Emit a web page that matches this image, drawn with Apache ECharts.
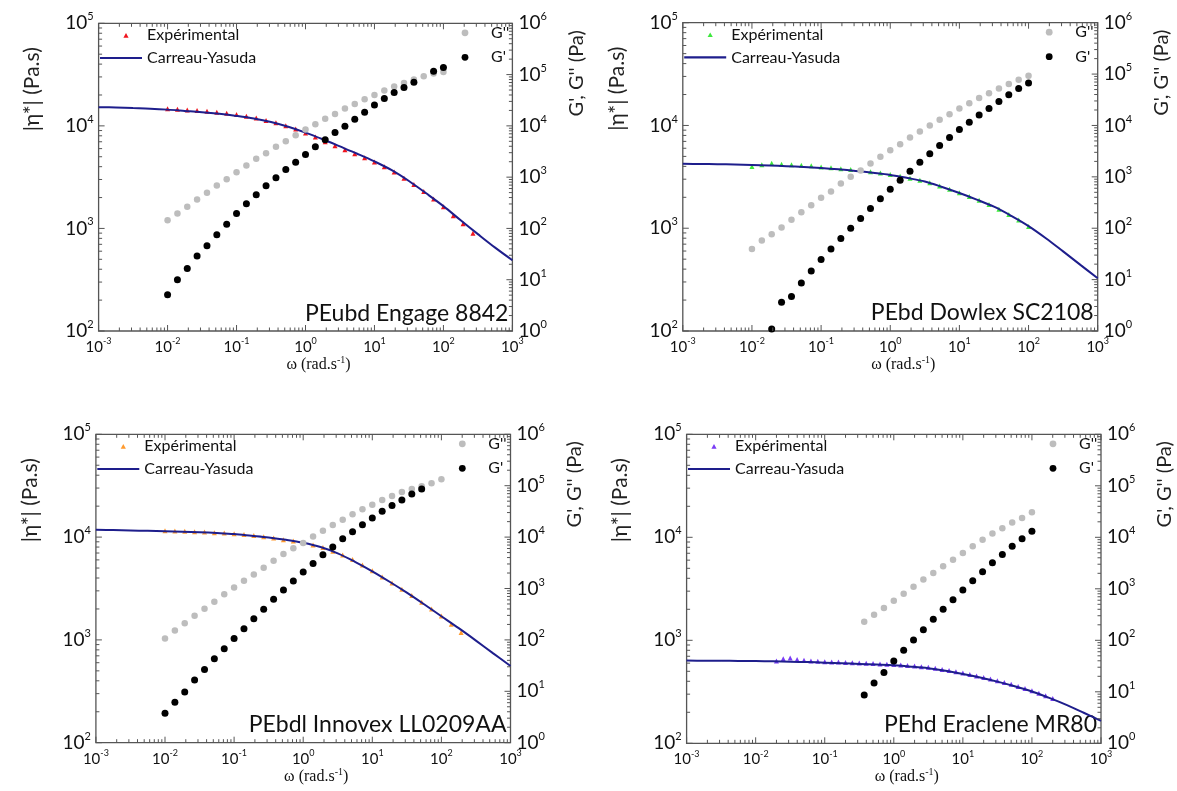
<!DOCTYPE html>
<html><head><meta charset="utf-8">
<script src="https://cdn.jsdelivr.net/npm/echarts@6/dist/echarts.min.js"></script>
<style>html,body{margin:0;padding:0;background:#fff}#c{width:1177px;height:791px}</style>
</head><body><div id="c"></div>
<script>
// ---------- DATA ----------
// frequency grid of measurements (7 points / decade)
const omega = [0.01,0.0139,0.0193,0.0268,0.0373,0.0518,0.0720,0.1,0.139,0.193,0.268,0.373,0.518,0.720,1,1.39,1.93,2.68,3.73,5.18,7.20,10,13.9,19.3,26.8,37.3,51.8,72.0,100,139,193,268];
// frequency grid for the Carreau-Yasuda curves (read every quarter decade)
const omegaFit = [0.001,0.00178,0.00316,0.00562,0.01,0.0178,0.0316,0.0562,0.1,0.178,0.316,0.562,1,1.78,3.16,5.62,10,17.8,31.6,56.2,100,178,316,562,1000];
// dense frequency grid of panel 4 viscosity
const omegaDense = [0.02,0.0251,0.0316,0.0398,0.0501,0.0631,0.0794,0.1,0.126,0.158,0.2,0.251,0.316,0.398,0.501,0.631,0.794,1,1.26,1.58,2,2.51,3.16,3.98,5.01,6.31,7.94,10,12.6,15.8,20,25.1,31.6,39.8,50.1,63.1,79.4,100,126,158,200];

const panelNames = ['PEubd Engage 8842','PEbd Dowlex SC2108','PEbdl Innovex LL0209AA','PEhd Eraclene MR80'];
const expColors = ['#f0141e','#3ee83e','#ff9a2e','#7a3cf5'];
const expLabel = 'Expérimental', fitLabel = 'Carreau-Yasuda', gppLabel = "G''", gpLabel = "G'";

// |eta*| experimental (Pa.s)
const exp1 = [14700,14500,14300,14100,13900,13600,13300,12900,12400,11900,11300,10700,10000,9300,8500,7800,7000,6400,5850,5350,4900,4450,4000,3550,3080,2680,2290,1940,1630,1330,1110,900];
const exp2 = [3980,4150,4300,4200,4150,4100,4050,3950,3880,3800,3720,3640,3540,3440,3330,3200,3070,2930,2770,2580,2390,2210,2040,1870,1700,1530,1360,1200,1040];
const exp3 = [11500,11450,11400,11300,11200,11050,10950,10800,10600,10350,10100,9800,9450,9150,8850,8400,7900,7300,6700,6050,5350,4700,4100,3580,3110,2700,2330,2000,1710,1420,1180];
const exp4 = [628,662,675,650,640,630,625,620,617,614,610,606,602,598,594,590,586,582,576,569,562,554,546,535,522,509,495,481,466,451,436,421,405,390,374,357,340,323,306,289,273];

// Carreau-Yasuda fits (Pa.s)
const fit1 = [15200,15100,14900,14700,14400,14000,13600,13100,12500,11800,10900,9800,8600,7400,6300,5350,4500,3700,2900,2200,1650,1200,880,650,490];
const fit2 = [4240,4220,4200,4170,4130,4080,4020,3940,3850,3740,3610,3460,3300,3080,2850,2520,2200,1900,1620,1320,1050,800,595,440,326];
const fit3 = [11800,11700,11600,11500,11400,11300,11150,10950,10700,10300,9900,9400,8800,8000,6950,5750,4650,3680,2880,2220,1700,1300,985,740,558];
const fit4 = [635,634,633,631,629,625,620,614,607,599,590,581,571,555,535,505,471,435,397,358,318,276,236,198,165];

// G' (Pa) on omega[0..28]
const gp1 = [5.1,10,16.6,28.9,45.9,75.3,121,196,303,453,678,970,1410,1960,2765,3900,5340,7420,9860,13500,18500,25600,34100,44600,55800,70900,null,116000,137000];
const gp2 = [null,null,1.09,3.62,4.67,8.6,14.7,24.5,39.6,62.9,100,154,242,373,575,861,1290,1930,2800,4080,5840,8350,11600,15900,21400,29300,39600,52600,66800];
const gp3 = [3.72,6.09,9.68,16.6,26.7,43.1,67.5,107,165,258,393,615,934,1400,2090,3080,4550,6410,9310,12700,17400,23500,31700,41400,52600,68900,86100,null,null];
const gp4 = [null,null,null,null,null,null,null,null,null,null,null,8.7,14.8,23.6,39.7,64,101,161,256,400,616,949,1440,2150,3220,4610,6680,9420,13100];
// G'' (Pa) on omega[0..28]
const gpp1 = [145,196,264,367,495,688,914,1250,1690,2280,2940,3900,5030,6580,8490,10800,13700,17100,21800,26800,33100,40200,48800,58400,68800,80000,92900,104600,112700];
const gpp2 = [39.6,57.5,76.4,103,147,205,281,390,518,741,1000,1330,1820,2450,3300,4330,5840,7640,10000,12900,16600,21400,27200,34100,42600,52600,63900,77600,92900];
const gpp3 = [107,153,210,296,405,554,769,1050,1420,1880,2540,3470,4690,6040,7670,10300,13300,17200,21800,27700,34700,42700,52600,62900,75300,86100,97100,111000,133000];
const gpp4 = [null,null,null,null,null,null,null,null,null,null,null,230,315,424,589,805,1100,1510,2030,2730,3680,4960,6680,9010,11800,15000,19300,23700,30600];

// axis ticks (decade exponents) and minor multipliers
const xTickExp = [-3,-2,-1,0,1,2,3];
const etaTickExp = [2,3,4,5];
const modTickExp = [0,1,2,3,4,5,6];
const minorMult = [2,3,4,5,6,7,8,9];

// ---------- LAYOUT ----------
const F = 'Lato';
const frame = '#555';
const lineColor = '#1e1e8c';
const grids = [
  {x:98.6, y:23.3, w:413.8, h:307.7},
  {x:682.8, y:22.7, w:414.9, h:308.3},
  {x:95.9, y:434.3, w:414.6, h:308.4},
  {x:686.6, y:434.3, w:414.4, h:309}
];
const panels = [
  {exX: omega, ex: exp1, fit: fit1, gp: gp1, gpp: gpp1},
  {exX: omega, ex: exp2, fit: fit2, gp: gp2, gpp: gpp2},
  {exX: omega, ex: exp3, fit: fit3, gp: gp3, gpp: gpp3},
  {exX: omegaDense, ex: exp4, fit: fit4, gp: gp4, gpp: gpp4}
];
// legend icons whose bounding box equals the legend item box
const iconTri = 'path://M0,0M32,7M13.4,6.2L16,1.6L18.6,6.2Z';
const iconLine = 'path://M0,0M42,7M0,2.4H42V4.6H0Z';
const iconDot = 'path://M0,0M42,7M17.6,3.5A3.4,3.4,0,1,0,24.4,3.5A3.4,3.4,0,1,0,17.6,3.5Z';

function pairs(xs, ys){ const out=[]; ys.forEach((v,j)=>{ if(v!=null) out.push([xs[j], v]); }); return out; }
function tickVals(exps){ const out=[]; exps.forEach((e,j)=>{ const b=Math.pow(10,e); out.push([b,1]); if(j<exps.length-1) minorMult.forEach(m=>out.push([m*b,0])); }); return out; }
function logLabel(size, sup, margin){
  return {margin, formatter: v => '{b|10}{s|' + Math.round(Math.log10(v)) + '}',
    rich:{ b:{fontSize:size, lineHeight:size+5, fontFamily:F, color:'#111'},
           s:{fontSize:sup, lineHeight:sup+2, verticalAlign:'top', fontFamily:F, color:'#111'} } };
}
function tickRenderer(side){
  return function(params, api){
    const cs = params.coordSys;
    const kind = api.value(2), major = api.value(3);
    const len = major ? 6 : 3.5;
    const pt = api.coord([api.value(0), api.value(1)]);
    const st = {stroke: frame, lineWidth: 1};
    if (kind === 0) {
      const x = pt[0];
      return {type:'group', children:[
        {type:'line', shape:{x1:x, y1:cs.y+cs.height, x2:x, y2:cs.y+cs.height-len}, style:st},
        {type:'line', shape:{x1:x, y1:cs.y, x2:x, y2:cs.y+len}, style:st}]};
    }
    const y = pt[1];
    const x0 = side === 'right' ? cs.x + cs.width : cs.x;
    const dx = side === 'right' ? -len : len;
    return {type:'line', shape:{x1:x0, y1:y, x2:x0+dx, y2:y}, style:st};
  };
}

const xTicks = tickVals(xTickExp), etaTicks = tickVals(etaTickExp), modTicks = tickVals(modTickExp);
const gridOpt = [], xAxis = [], yAxis = [], series = [], legend = [], graphic = [];
const txt = {fontFamily:F, fontSize:16, color:'#111', lineHeight:18};

panels.forEach((p, i) => {
  const g = grids[i];
  gridOpt.push({left:g.x, top:g.y, width:g.w, height:g.h, show:true, borderColor:frame, borderWidth:1.3, backgroundColor:'transparent'});
  xAxis.push({type:'log', logBase:10, gridIndex:i, min:0.001, max:1000, splitNumber:6,
    axisLine:{show:false}, axisTick:{show:false}, splitLine:{show:false},
    axisLabel: logLabel(15, 9, 6),
    name:'{a|ω (rad.s}{s|-1}{a|)}', nameLocation:'middle', nameGap:24,
    nameTextStyle:{fontFamily:'Liberation Serif', fontSize:16, color:'#111', padding:[0,0,0,26],
      rich:{a:{fontFamily:'Liberation Serif', fontSize:16, color:'#111', lineHeight:19},
            s:{fontFamily:'Liberation Serif', fontSize:10, lineHeight:11, verticalAlign:'top', color:'#111'}}}});
  yAxis.push({type:'log', logBase:10, gridIndex:i, position:'left', min:100, max:100000,
    axisLine:{show:false}, axisTick:{show:false}, splitLine:{show:false}, axisLabel: logLabel(19, 11, 5)});
  yAxis.push({type:'log', logBase:10, gridIndex:i, position:'right', min:1, max:1000000, splitNumber:6,
    axisLine:{show:false}, axisTick:{show:false}, splitLine:{show:false}, axisLabel: logLabel(19, 11, 6)});
  const yl = 2*i, yr = 2*i+1;
  series.push({type:'scatter', name:'exp'+i, xAxisIndex:i, yAxisIndex:yl, symbol:'triangle', symbolSize:5,
    itemStyle:{color:expColors[i], opacity:1}, data:pairs(p.exX, p.ex), z:2, silent:true});
  series.push({type:'line', name:'cy'+i, xAxisIndex:i, yAxisIndex:yl, symbol:'none', smooth:0.35,
    lineStyle:{color:lineColor, width:2}, itemStyle:{color:lineColor}, data:pairs(omegaFit, p.fit), z:3, silent:true});
  series.push({type:'scatter', name:'gpp'+i, xAxisIndex:i, yAxisIndex:yr, symbol:'circle', symbolSize:6.5,
    itemStyle:{color:'#bdbdbd', opacity:1}, data:pairs(omega, p.gpp), z:4, silent:true});
  series.push({type:'scatter', name:'gp'+i, xAxisIndex:i, yAxisIndex:yr, symbol:'circle', symbolSize:7,
    itemStyle:{color:'#000', opacity:1}, data:pairs(omega, p.gp), z:5, silent:true});
  series.push({type:'custom', xAxisIndex:i, yAxisIndex:yl, renderItem:tickRenderer('left'), silent:true, z:10,
    encode:{x:0, y:1}, data: xTicks.map(t => [t[0], 1000, 0, t[1]]).concat(etaTicks.map(t => [1, t[0], 1, t[1]]))});
  series.push({type:'custom', xAxisIndex:i, yAxisIndex:yr, renderItem:tickRenderer('right'), silent:true, z:10,
    encode:{x:0, y:1}, data: modTicks.map(t => [1, t[0], 1, t[1]])});

  const common = {padding:0, selectedMode:false, textStyle:txt, symbolKeepAspect:true};
  legend.push(Object.assign({data:[{name:'exp'+i, icon:iconTri}], left:g.x+11.4, top:g.y+11.7-9, itemWidth:32, itemHeight:7,
    formatter:() => expLabel}, common));
  legend.push(Object.assign({data:[{name:'cy'+i, icon:iconLine}], left:g.x+1.4, top:g.y+34.7-9, itemWidth:42, itemHeight:7,
    formatter:() => fitLabel}, common));
  legend.push(Object.assign({data:[{name:'gpp'+i, icon:iconDot}], left:g.x+345.4, top:g.y+9.5-9, itemWidth:42, itemHeight:7,
    formatter:() => gppLabel}, common));
  legend.push(Object.assign({data:[{name:'gp'+i, icon:iconDot}], left:g.x+345.4, top:g.y+34-9, itemWidth:42, itemHeight:7,
    formatter:() => gpLabel}, common));

  graphic.push({type:'text', x:g.x-66, y:g.y+66, rotation:Math.PI/2,
    style:{text:'|η*| (Pa.s)', font:'21px Lato', fill:'#222', textAlign:'center', textVerticalAlign:'middle'}});
  graphic.push({type:'text', x:g.x+g.w+64, y:g.y+50, rotation:Math.PI/2,
    style:{text:"G', G'' (Pa)", font:'20px Lato', fill:'#222', textAlign:'center', textVerticalAlign:'middle'}});
  graphic.push({type:'text', x:g.x+g.w-4, y:g.y+290,
    style:{text:panelNames[i], font:'23px Lato', fill:'#111', textAlign:'right', textVerticalAlign:'middle'}});
});

const chart = echarts.init(document.getElementById('c'), null, {renderer:'canvas'});
chart.setOption({animation:false, backgroundColor:'#fff', grid:gridOpt, xAxis, yAxis, series, legend, graphic});
</script>
</body></html>
